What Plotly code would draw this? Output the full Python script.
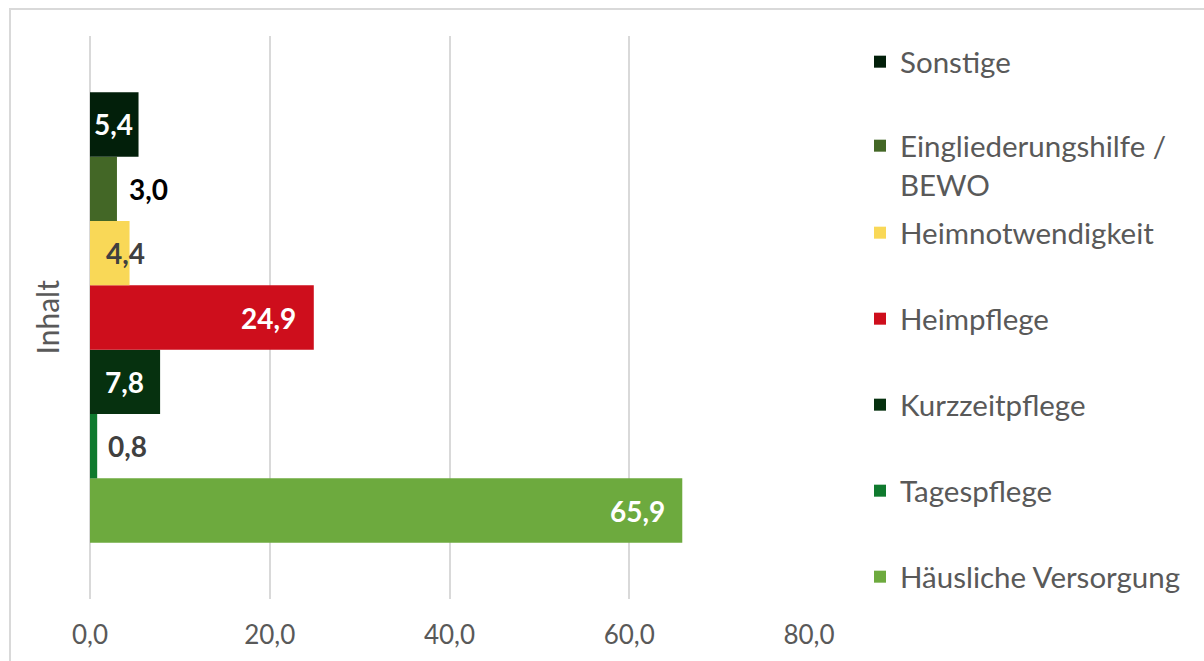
import plotly.graph_objects as go

category = ["Inhalt"]
series = ["Häusliche Versorgung", "Tagespflege", "Kurzzeitpflege", "Heimpflege",
          "Heimnotwendigkeit", "Eingliederungshilfe / BEWO", "Sonstige"]
values = [65.9, 0.8, 7.8, 24.9, 4.4, 3.0, 5.4]
x_ticks = [0, 20, 40, 60, 80]

colors = ["#6DAA3E", "#0F7A2E", "#06310F", "#CE0E1C", "#F9D857", "#436726", "#021F0A"]
legend_names = ["Häusliche Versorgung", "Tagespflege", "Kurzzeitpflege", "Heimpflege",
                "Heimnotwendigkeit", "Eingliederungshilfe /<br>BEWO", "Sonstige"]
# label style: (xanchor, xshift, color)
label_style = [("right", -15, "white"), ("left", 9, "#404040"), ("right", -14, "white"),
               ("right", -16, "white"), ("right", 17, "#404040"), ("left", 10, "black"),
               ("right", -4, "white")]
legend_y = [577, 491, 405, 319, 233, 147, 62]  # pixel centers

W, H = 1204, 661
ml, mr, mt, mb = 90, W - 809, 36, H - 599
bargap = 0.2
FONT = "Lato"
GRAY = "#595959"

fig = go.Figure()
n = len(series)
for i, (name, v) in enumerate(zip(series, values)):
    lg = "legend" if i == 0 else f"legend{i+1}"
    fig.add_trace(go.Bar(
        y=category, x=[v], orientation="h", name=legend_names[i],
        marker=dict(color=colors[i], line=dict(width=0)),
        legend=lg, hoverinfo="x+name",
    ))

annotations = []
bw = (1 - bargap) / n
for i, v in enumerate(values):
    anc, sh, col = label_style[i]
    yc = -(1 - bargap) / 2 + (i + 0.5) * bw
    annotations.append(dict(
        x=v, y=yc, xref="x", yref="y", text=f"{v:.1f}".replace(".", ","),
        showarrow=False, xanchor=anc, xshift=sh, yanchor="middle",
        font=dict(family=FONT, size=28, color=col, weight="bold"),
    ))

plot_w = W - ml - mr
plot_h = H - mt - mb
annotations.append(dict(
    x=-(ml - 46) / plot_w, y=0.5, xref="paper", yref="paper", text="Inhalt",
    textangle=-90, showarrow=False, xanchor="center", yanchor="middle",
    font=dict(family=FONT, size=30, color=GRAY),
))

layout_legends = {}
for i in range(n):
    key = "legend" if i == 0 else f"legend{i+1}"
    two_line = "<br>" in legend_names[i]
    layout_legends[key] = dict(
        x=860 / W, xref="container", xanchor="left",
        y=1 - (legend_y[i] - (27 if two_line else 0)) / H, yref="container",
        yanchor="top" if two_line else "middle",
        valign="top",
        font=dict(family=FONT, size=29.5, color=GRAY),
        bgcolor="rgba(0,0,0,0)", borderwidth=0,
        itemclick=False,
    )

fig.update_layout(
    width=W, height=H,
    margin=dict(l=ml, r=mr, t=mt, b=mb, autoexpand=False),
    barmode="group", bargap=bargap, bargroupgap=0,
    plot_bgcolor="white", paper_bgcolor="white",
    separators=",.",
    showlegend=True,
    xaxis=dict(range=[0, 80], tickvals=x_ticks, tickformat=".1f",
               showgrid=True, gridcolor="#D9D9D9", gridwidth=2,
               zeroline=True, zerolinecolor="#D9D9D9", zerolinewidth=2,
               showline=False, ticks="", ticklen=0, ticklabelstandoff=18,
               tickfont=dict(family=FONT, size=26, color=GRAY)),
    yaxis=dict(showticklabels=False, showgrid=False, zeroline=False, showline=False, ticks=""),
    annotations=annotations,
    shapes=[dict(type="rect", xref="paper", yref="paper",
                 x0=-(ml - 10) / plot_w, x1=(W + 10 - ml) / plot_w,
                 y0=-(mb + 20) / plot_h, y1=1 + (mt - 9) / plot_h,
                 line=dict(color="#D9D9D9", width=2), fillcolor="rgba(0,0,0,0)",
                 layer="below")],
    **layout_legends,
)

fig.write_html("out.html")
